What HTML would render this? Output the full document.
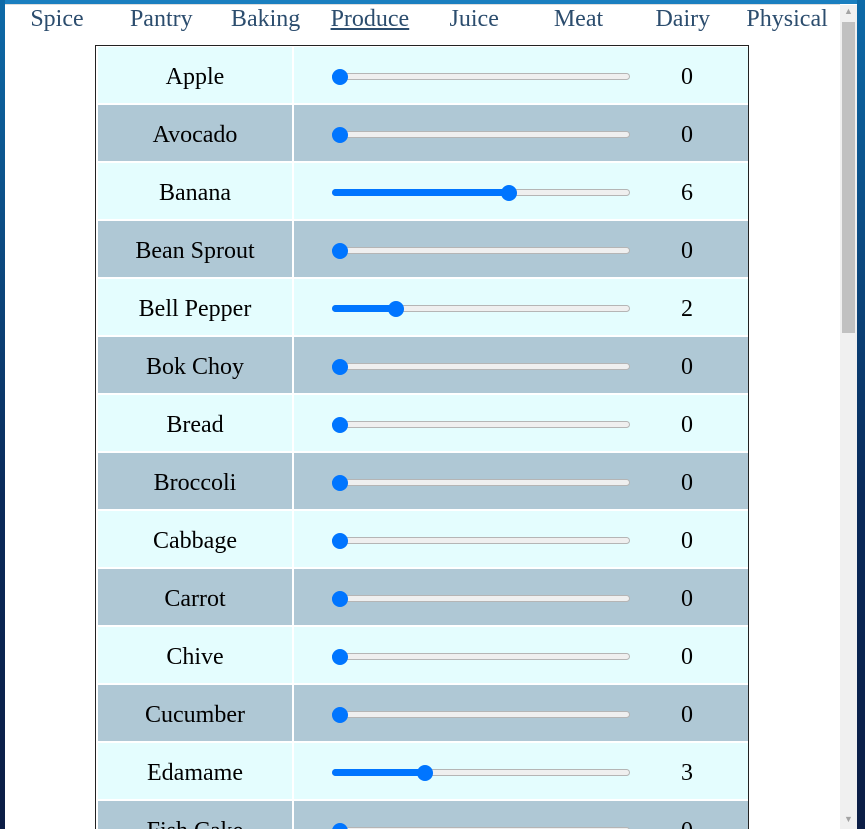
<!DOCTYPE html>
<html><head><meta charset="utf-8"><style>
html,body{margin:0;padding:0;width:865px;height:829px;overflow:hidden;position:relative;background:linear-gradient(180deg,#0d6aa8,#0a2a5a 60%,#0b1d45);font-family:"Liberation Serif",serif;}
#win{position:absolute;left:5px;top:0;width:852px;height:829px;background:#fff;border-top:4px solid #1a7fc0;box-sizing:border-box;}
#topline{position:absolute;left:5px;top:4px;width:835px;height:1px;background:#ddd;}
.nav{position:absolute;top:6px;font-size:24px;color:#2c4d6e;transform:translateX(-50%);white-space:nowrap;cursor:pointer;}
.nav.active{text-decoration:underline;}
#table{position:absolute;left:95px;top:45px;width:654px;height:784px;overflow:hidden;border:1px solid #222;border-bottom:none;box-sizing:border-box;background:#fff;}
.row{position:absolute;left:2px;width:650px;height:56px;}
.c1,.c2{position:absolute;top:0;height:56px;}
.c1{left:0;width:194px;text-align:center;line-height:60px;font-size:24px;color:#000;}
.c2{left:196px;width:454px;}
.track{position:absolute;left:38px;top:26px;width:298px;height:7px;border-radius:4px;background:#efefef;border:1px solid #b5b5b5;box-sizing:border-box;}
.fill{position:absolute;left:38px;top:26px;height:7px;border-radius:4px;background:#0075ff;}
.thumb{position:absolute;top:22px;width:16px;height:16px;border-radius:50%;background:#0075ff;}
.val{position:absolute;left:363px;width:60px;top:0;line-height:60px;text-align:center;font-size:24px;}
#sb{position:absolute;left:840px;top:5px;width:17px;height:824px;background:#f0f0f0;}
#thumbsb{position:absolute;left:842px;top:22px;width:13px;height:311px;background:#c1c1c1;}
.arr{position:absolute;left:844px;font-size:9px;color:#a3a3a3;}
</style></head><body>
<div id="win"></div>
<div id="topline"></div>
<div id="nav"></div>
<div id="table"></div>
<div id="sb"></div>
<div id="thumbsb"></div>
<div class="arr" style="top:6px">▲</div>
<div class="arr" style="top:814px">▼</div>
<script>
const categories=["Spice","Pantry","Baking","Produce","Juice","Meat","Dairy","Physical"];
const items=["Apple","Avocado","Banana","Bean Sprout","Bell Pepper","Bok Choy","Bread","Broccoli","Cabbage","Carrot","Chive","Cucumber","Edamame","Fish Cake"];
const values=[0,0,6,0,2,0,0,0,0,0,0,0,3,0];
const maxValue=10;
const nav=document.getElementById('nav');
categories.forEach((c,i)=>{
  const d=document.createElement('div');
  d.className='nav'+(c==='Produce'?' active':'');
  d.style.left=(57+i*104.3)+'px';
  d.textContent=c;
  
  
  nav.appendChild(d);
});
const t=document.getElementById('table');
const x=v=>38+8+v/maxValue*(298-16);
items.forEach((name,i)=>{
  const r=document.createElement('div');
  r.className='row';
  r.style.top=(1+i*58)+'px';
  const bg=i%2?'#afc8d5':'#e4fdfe';
  
  
  const c1=document.createElement('div');c1.className='c1';c1.style.background=bg;c1.textContent=name;
  
  
  const c2=document.createElement('div');c2.className='c2';c2.style.background=bg;
  const tr=document.createElement('div');tr.className='track';
  
  
  const cx=x(values[i]);
  const f=document.createElement('div');f.className='fill';f.style.width=(cx-38)+'px';
  
  
  const th=document.createElement('div');th.className='thumb';th.style.left=(cx-8)+'px';
  
  
  const v=document.createElement('div');v.className='val';v.textContent=values[i];
  
  
  c2.append(tr,f,th,v);
  r.append(c1,c2);
  t.appendChild(r);
});
</script>
</body></html>
